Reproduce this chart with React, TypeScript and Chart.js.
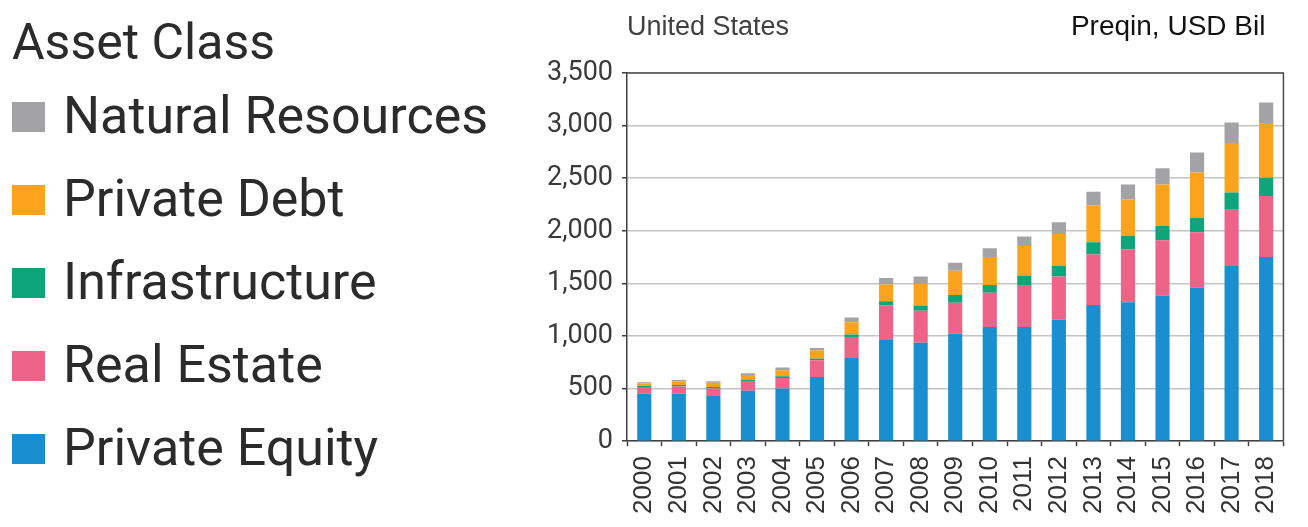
import React, { useEffect, useRef } from 'react';
import { Chart, registerables } from 'chart.js';

Chart.register(...registerables);

const years = ['2000', '2001', '2002', '2003', '2004', '2005', '2006', '2007', '2008', '2009', '2010', '2011', '2012', '2013', '2014', '2015', '2016', '2017', '2018'];

const privateEquity = [450, 450, 430, 480, 500, 610, 790, 970, 935, 1020, 1085, 1085, 1155, 1295, 1320, 1385, 1460, 1665, 1750];
const realEstate = [65, 70, 70, 85, 100, 160, 200, 320, 305, 295, 325, 400, 410, 480, 505, 525, 525, 535, 580];
const infrastructure = [12, 15, 15, 18, 18, 15, 25, 40, 50, 75, 75, 90, 100, 115, 125, 135, 140, 165, 175];
const privateDebt = [20, 35, 40, 45, 55, 80, 115, 160, 205, 230, 265, 280, 305, 350, 350, 395, 430, 470, 520];
const naturalResources = [13, 12, 15, 17, 27, 20, 45, 60, 70, 75, 85, 90, 110, 130, 140, 155, 190, 195, 195];

const legendTitle = 'Asset Class';
const chartTitle = 'United States';
const sourceLabel = 'Preqin, USD Bil';

const Y_MAX = 3500;
const Y_STEP = 500;

export default function App() {
  const canvasRef = useRef<HTMLCanvasElement | null>(null);

  useEffect(() => {
    document.body.style.margin = '0';
    document.body.style.overflow = 'hidden';
    const canvas = canvasRef.current;
    if (!canvas) return;

    const titlePadTop = 11;
    const titleFontSize = 27;

    const framePlugin = {
      id: 'frameAndSource',
      afterDraw(chart: any) {
        const { ctx, chartArea } = chart;
        ctx.save();
        ctx.strokeStyle = '#4a4a4a';
        ctx.lineWidth = 1.5;
        ctx.beginPath();
        ctx.moveTo(chartArea.left, chartArea.top);
        ctx.lineTo(chartArea.right, chartArea.top);
        ctx.lineTo(chartArea.right, chartArea.bottom);
        ctx.stroke();
        const tb = chart.titleBlock;
        const y = (tb ? tb.top : 0) + titlePadTop + (titleFontSize * 1.2) / 2;
        ctx.font = '28px "Liberation Sans", Arial, sans-serif';
        ctx.fillStyle = '#111111';
        ctx.textAlign = 'right';
        ctx.textBaseline = 'middle';
        ctx.fillText(sourceLabel, chartArea.right - 18, y);
        ctx.restore();
      },
    };

    // Side legend drawn from the chart's own datasets (top = last dataset)
    const sideLegendPlugin = {
      id: 'sideLegend',
      afterDraw(chart: any) {
        const { ctx } = chart;
        const x0 = 12;
        const firstBoxTop = 102;
        const step = 83;
        const boxW = 33;
        const boxH = 30;
        ctx.save();
        ctx.fillStyle = '#2b2b2b';
        ctx.textAlign = 'left';
        ctx.textBaseline = 'alphabetic';
        ctx.font = '50px Roboto, "Liberation Sans", sans-serif';
        ctx.fillText(legendTitle, x0, 59);
        const ds = chart.data.datasets.slice().reverse();
        ctx.font = '52px Roboto, "Liberation Sans", sans-serif';
        ds.forEach((d: any, i: number) => {
          const top = firstBoxTop + i * step;
          ctx.fillStyle = d.backgroundColor;
          ctx.fillRect(x0, top, boxW, boxH);
          ctx.fillStyle = '#2b2b2b';
          ctx.fillText(d.label, 63, top + 31);
        });
        ctx.restore();
      },
    };

    const chart = new Chart(canvas, {
      type: 'bar',
      data: {
        labels: years,
        datasets: [
          { label: 'Private Equity', data: privateEquity, backgroundColor: '#1a8fd0' },
          { label: 'Real Estate', data: realEstate, backgroundColor: '#ee6489' },
          { label: 'Infrastructure', data: infrastructure, backgroundColor: '#0ea57b' },
          { label: 'Private Debt', data: privateDebt, backgroundColor: '#fca31e' },
          { label: 'Natural Resources', data: naturalResources, backgroundColor: '#a3a3a6' },
        ],
      },
      options: {
        animation: false,
        responsive: true,
        maintainAspectRatio: false,
        datasets: {
          bar: { barPercentage: 0.41, categoryPercentage: 1 },
        },
        layout: {
          padding: { left: 527, right: 22, top: 0, bottom: 3 },
        },
        plugins: {
          tooltip: { enabled: false },
          legend: { display: false },
          title: {
            display: true,
            text: chartTitle,
            align: 'start',
            fullSize: false,
            color: '#404040',
            font: { family: '"Liberation Sans", Arial, sans-serif', size: titleFontSize, weight: 'normal' },
            padding: { top: titlePadTop, bottom: 29.6 },
          },
        },
        scales: {
          x: {
            stacked: true,
            offset: true,
            grid: {
              display: true,
              offset: true,
              drawOnChartArea: false,
              drawTicks: true,
              tickLength: 5,
              tickColor: '#404040',
              tickWidth: 1.5,
            },
            border: { display: true, color: '#404040', width: 1.5 },
            ticks: {
              minRotation: 90,
              maxRotation: 90,
              autoSkip: false,
              padding: 10,
              color: '#333333',
              font: { family: '"Liberation Sans", Arial, sans-serif', size: 26 },
            },
          },
          y: {
            stacked: true,
            min: 0,
            max: Y_MAX,
            afterFit(scale: any) {
              scale.width = 100;
            },
            grid: {
              color: '#c4c4c4',
              lineWidth: 1.5,
              drawTicks: true,
              tickLength: 5,
              tickColor: '#404040',
              tickWidth: 1.5,
            },
            border: { display: true, color: '#404040', width: 1.5 },
            ticks: {
              stepSize: Y_STEP,
              padding: 9,
              color: '#3a3a3a',
              font: { family: 'Roboto, "Liberation Sans", sans-serif', size: 27 },
              callback: (v: any) => Number(v).toLocaleString('en-US'),
            },
          },
        },
      },
      plugins: [framePlugin, sideLegendPlugin],
    });

    return () => {
      chart.destroy();
    };
  }, []);

  return (
    <div style={{ position: 'relative', width: '1308px', height: '527px' }}>
      <canvas ref={canvasRef} />
    </div>
  );
}
